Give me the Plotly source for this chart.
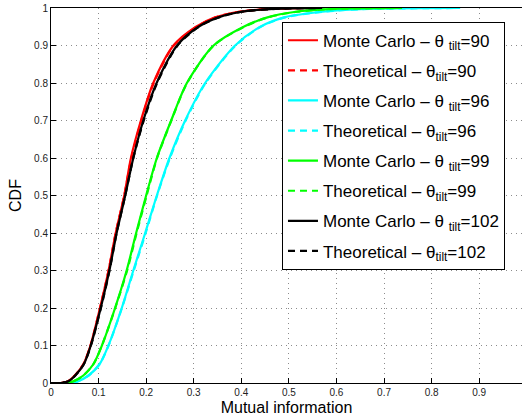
import plotly.graph_objects as go

# CDF levels and the mutual-information values (quantiles)
cdf_levels = [0.0, 0.0, 0.005, 0.02, 0.05, 0.1, 0.2, 0.3, 0.4, 0.5, 0.6, 0.7, 0.8, 0.9, 0.95, 0.975, 0.99, 0.997, 1.0]

mc_90 = [0.0, 0.020, 0.036, 0.050, 0.068, 0.083, 0.103, 0.121, 0.136, 0.154, 0.168, 0.189, 0.215, 0.2575, 0.305, 0.345, 0.395, 0.452, 0.550]
th_90 = [0.0, 0.020, 0.036, 0.050, 0.068, 0.083, 0.103, 0.121, 0.136, 0.154, 0.169, 0.190, 0.216, 0.2580, 0.306, 0.346, 0.396, 0.454, 0.545]

mc_96 = [0.0, 0.040, 0.057, 0.079, 0.102, 0.1207, 0.1488, 0.173, 0.198, 0.2225, 0.249, 0.282, 0.324, 0.387, 0.440, 0.490, 0.570, 0.650, 0.860]
th_96 = [0.0, 0.040, 0.057, 0.079, 0.102, 0.1210, 0.1490, 0.174, 0.199, 0.2230, 0.250, 0.283, 0.325, 0.388, 0.441, 0.492, 0.572, 0.652, 0.850]

mc_99 = [0.0, 0.030, 0.048, 0.068, 0.089, 0.107, 0.1347, 0.159, 0.179, 0.200, 0.2225, 0.2526, 0.2856, 0.3417, 0.405, 0.455, 0.515, 0.585, 0.738]
th_99 = [0.0, 0.030, 0.048, 0.068, 0.089, 0.107, 0.1350, 0.160, 0.180, 0.201, 0.2230, 0.2530, 0.2860, 0.3420, 0.406, 0.456, 0.517, 0.587, 0.730]

mc_102 = [0.0, 0.020, 0.037, 0.051, 0.069, 0.0836, 0.1045, 0.1227, 0.138, 0.156, 0.173, 0.194, 0.222, 0.265, 0.310, 0.352, 0.400, 0.460, 0.570]
th_102 = [0.0, 0.020, 0.037, 0.051, 0.069, 0.0840, 0.1050, 0.1230, 0.138, 0.156, 0.173, 0.195, 0.223, 0.266, 0.311, 0.353, 0.401, 0.462, 0.565]

series = [
    ("Monte Carlo – θ <sub>tilt</sub>=90", mc_90, "#ff0000", "solid"),
    ("Theoretical – θ<sub>tilt</sub>=90", th_90, "#ff0000", "7px,5px"),
    ("Monte Carlo – θ <sub>tilt</sub>=96", mc_96, "#00ffff", "solid"),
    ("Theoretical – θ<sub>tilt</sub>=96", th_96, "#00ffff", "7px,5px"),
    ("Monte Carlo – θ <sub>tilt</sub>=99", mc_99, "#00ff00", "solid"),
    ("Theoretical – θ<sub>tilt</sub>=99", th_99, "#00ff00", "7px,5px"),
    ("Monte Carlo – θ <sub>tilt</sub>=102", mc_102, "#000000", "solid"),
    ("Theoretical – θ<sub>tilt</sub>=102", th_102, "#000000", "7px,5px"),
]

x_ticks = [0, 0.1, 0.2, 0.3, 0.4, 0.5, 0.6, 0.7, 0.8, 0.9]
y_ticks = [0, 0.1, 0.2, 0.3, 0.4, 0.5, 0.6, 0.7, 0.8, 0.9, 1]

fig = go.Figure()
for i, (name, xs, color, dash) in enumerate(series):
    fig.add_trace(go.Scatter(
        x=xs, y=cdf_levels, mode="lines", name=name,
        line=dict(color=color, width=2.2, dash=dash, shape="spline", smoothing=0.8),
        legendgroup=f"g{i}",
    ))

fig.update_layout(
    width=522, height=416,
    margin=dict(l=51, r=0, t=8, b=33),
    paper_bgcolor="white", plot_bgcolor="white",
    font=dict(family="Liberation Sans, Arial, sans-serif", color="#000000"),
    showlegend=True,
    legend=dict(
        x=0.4904, y=0.9635, xanchor="left", yanchor="top",
        bgcolor="white", bordercolor="black", borderwidth=1,
        font=dict(size=17, color="#000000"),
        itemwidth=30, tracegroupgap=5,
    ),
)
grid_style = dict(showgrid=True, gridcolor="#8c8c8c", griddash="1px,4px", gridwidth=1)
fig.update_xaxes(
    range=[0, 0.99], tickvals=x_ticks, ticktext=[str(v) for v in x_ticks],
    showline=True, linecolor="black", linewidth=1, mirror=True,
    ticks="inside", ticklen=5, tickcolor="black",
    zeroline=False, tickfont=dict(size=10, color="#222222"),
    title=dict(text="Mutual information", font=dict(size=16), standoff=4),
    **grid_style,
)
fig.update_yaxes(
    range=[0, 1], tickvals=y_ticks, ticktext=[str(v) for v in y_ticks],
    showline=True, linecolor="black", linewidth=1, mirror=False,
    ticks="inside", ticklen=5, tickcolor="black",
    zeroline=False, tickfont=dict(size=10, color="#222222"),
    title=dict(text="CDF", font=dict(size=16), standoff=8),
    **grid_style,
)

fig.write_html("out.html")
